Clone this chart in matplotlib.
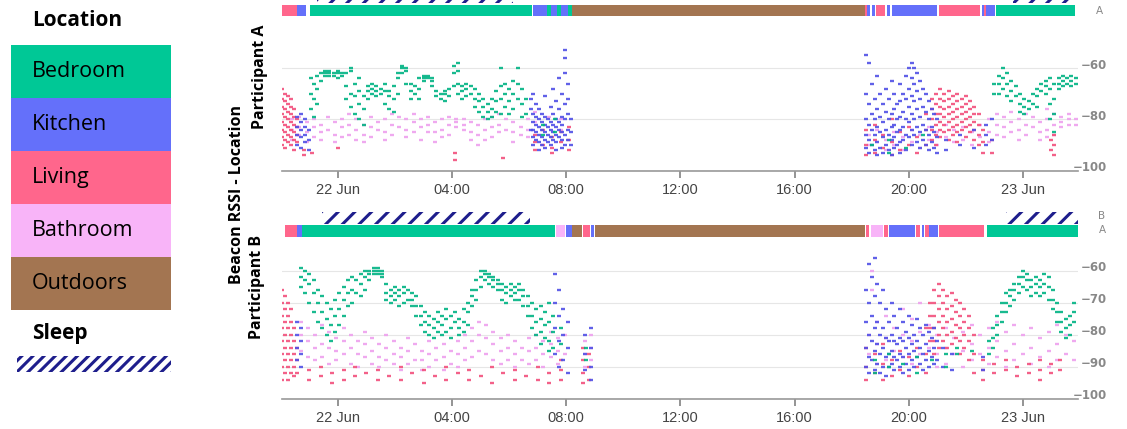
import matplotlib
matplotlib.use("Agg")
import matplotlib.pyplot as plt
import matplotlib.dates as mdates
from matplotlib.patches import Rectangle
from matplotlib.ticker import FuncFormatter
from matplotlib.transforms import ScaledTranslation
from datetime import datetime, timedelta

# hours are counted from 22 Jun 00:00
base = datetime(2019, 6, 22)

places = ["Bedroom", "Kitchen", "Living", "Bathroom", "Outdoors"]
place_colors = ["#00C896", "#6470FA", "#FF668C", "#F8B4F8", "#A37551"]
dot_colors = {"Bedroom": "#00b383", "Kitchen": "#5050e6", "Living": "#f2507c", "Bathroom": "#eea0ee"}

# location strips: (start h, end h, place)
loc_a = [(-1.97, -1.45, "Living"), (-1.43, -1.12, "Kitchen"), (-0.98, 6.79, "Bedroom"),
         (6.82, 7.31, "Kitchen"), (7.31, 7.48, "Bedroom"), (7.48, 7.66, "Kitchen"),
         (7.66, 7.80, "Bedroom"), (7.80, 8.06, "Kitchen"), (8.06, 8.19, "Bedroom"),
         (8.19, 18.46, "Outdoors"), (18.46, 18.55, "Living"), (18.55, 18.65, "Kitchen"),
         (18.72, 18.80, "Kitchen"), (18.85, 19.17, "Living"), (19.23, 19.33, "Kitchen"),
         (19.40, 21.00, "Kitchen"), (21.07, 22.50, "Living"), (22.55, 22.62, "Kitchen"),
         (22.62, 22.70, "Living"), (22.70, 23.02, "Kitchen"), (23.06, 25.83, "Bedroom")]
loc_b = [(-1.86, -1.45, "Living"), (-1.45, -1.27, "Kitchen"), (-1.27, 7.60, "Bedroom"),
         (7.64, 7.95, "Bathroom"), (7.99, 8.19, "Kitchen"), (8.19, 8.54, "Outdoors"),
         (8.60, 8.83, "Living"), (8.85, 8.97, "Kitchen"), (9.00, 18.46, "Outdoors"),
         (18.50, 18.62, "Living"), (18.66, 19.11, "Bathroom"), (19.13, 19.28, "Living"),
         (19.32, 20.22, "Kitchen"), (20.25, 20.39, "Living"), (20.45, 20.53, "Kitchen"),
         (20.57, 20.72, "Living"), (20.72, 21.03, "Kitchen"), (21.07, 22.63, "Living"),
         (22.73, 25.93, "Bedroom")]
sleep_a = [(-0.75, 6.14), (23.66, 25.82)]
sleep_b = [(-0.57, 6.74), (23.40, 25.93)]

# beacon RSSI readings: (hour, [dBm values])
bed_a = [(-0.95, [-64, -70, -76]), (-0.85, [-66, -72, -79]), (-0.75, [-63, -68, -74]),
         (-0.6, [-62, -65]), (-0.45, [-61, -62, -63]), (-0.3, [-61, -62, -63]),
         (-0.15, [-62, -63]), (0.0, [-61, -62, -64]), (0.15, [-62, -63]),
         (0.3, [-62, -67, -72]), (0.45, [-60, -61, -70, -75]), (0.6, [-66, -71, -78]),
         (0.75, [-64, -69, -74, -80]), (0.9, [-71, -76, -82]), (1.05, [-67, -69, -72]),
         (1.2, [-66, -68, -70]), (1.35, [-67, -69, -71]), (1.5, [-68, -70]),
         (1.65, [-66, -69, -74]), (1.8, [-69, -71, -76]), (1.95, [-67, -72, -77]),
         (2.1, [-64, -62, -70]), (2.25, [-59, -60, -62]), (2.4, [-60, -61, -66]),
         (2.55, [-66, -69, -72]), (2.7, [-67, -70]), (2.85, [-64, -68, -72]),
         (3.0, [-63, -64, -65]), (3.15, [-63, -64]), (3.3, [-64, -65, -67]),
         (3.45, [-69, -71]), (3.6, [-70, -72]), (3.75, [-69, -70, -73]),
         (3.9, [-68, -71]), (4.05, [-59, -62, -67]), (4.2, [-58, -61, -66, -70]),
         (4.35, [-67, -69, -72]), (4.5, [-66, -68, -71]), (4.65, [-67, -70]),
         (4.8, [-68, -72, -75]), (4.95, [-70, -73, -77]), (5.1, [-72, -75, -79]),
         (5.25, [-74, -77, -80]), (5.4, [-72, -76, -79]), (5.55, [-69, -73, -77]),
         (5.7, [-60, -67, -72, -78]), (5.85, [-66, -70, -75]), (6.0, [-68, -73, -78]),
         (6.15, [-65, -70, -76]), (6.3, [-60, -66, -72]), (6.45, [-68, -74, -79]),
         (6.6, [-72, -78]), (7.2, [-82, -86]), (7.6, [-80, -85]),
         (18.7, [-90]), (19.3, [-88, -93]), (19.9, [-91]), (20.5, [-86]),
         (23.0, [-66, -70]), (23.15, [-63, -66, -70]), (23.3, [-60, -64, -68]),
         (23.45, [-62, -66, -71]), (23.6, [-65, -69, -73]), (23.75, [-67, -71]),
         (23.9, [-70, -74, -77]), (24.05, [-72, -75, -78]), (24.2, [-73, -76]),
         (24.35, [-70, -74]), (24.5, [-68, -71, -75]), (24.65, [-66, -69]),
         (24.8, [-65, -67, -70]), (24.95, [-64, -68, -74, -80]), (25.1, [-66, -72, -78, -85]),
         (25.25, [-64, -66, -68]), (25.4, [-63, -65, -67]), (25.55, [-64, -66]),
         (25.7, [-63, -65, -67]), (25.85, [-64, -66])]

kit_a = [(-1.45, [-79, -83, -86, -90]), (-1.3, [-78, -81, -84, -87, -91]),
         (-1.15, [-80, -83, -86, -89]), (-1.0, [-84, -88, -92]),
         (6.75, [-72, -76, -84]), (6.85, [-70, -78, -81, -84, -87, -90]),
         (6.95, [-74, -79, -82, -85, -88]), (7.05, [-76, -80, -83, -86, -89, -92]),
         (7.15, [-78, -81, -84, -87, -90]), (7.25, [-71, -79, -82, -85, -88, -91]),
         (7.35, [-80, -83, -86, -89]), (7.45, [-75, -81, -84, -87, -90]),
         (7.55, [-68, -78, -82, -85, -88]), (7.65, [-73, -80, -83, -86, -89, -92]),
         (7.75, [-64, -76, -81, -84, -87]), (7.85, [-70, -79, -82, -85, -88, -91]),
         (7.95, [-53, -56, -62, -74, -80, -86, -90]), (8.05, [-66, -72, -78, -84, -88]),
         (8.15, [-80, -85, -90]),
         (18.5, [-55, -70, -80, -86, -91]), (18.6, [-58, -74, -82, -88, -93]),
         (18.7, [-66, -78, -84, -90]), (18.8, [-72, -80, -86, -92]),
         (18.9, [-63, -76, -83, -89, -94]), (19.0, [-70, -79, -85, -91]),
         (19.1, [-74, -81, -87, -93]), (19.2, [-68, -77, -84, -90]),
         (19.3, [-72, -80, -86, -92]), (19.4, [-65, -78, -83, -88, -94]),
         (19.5, [-70, -76, -82, -87, -91]), (19.6, [-74, -80, -85, -90]),
         (19.7, [-66, -73, -79, -84, -89, -93]), (19.8, [-70, -77, -83, -88]),
         (19.9, [-63, -72, -80, -86, -92]), (20.0, [-60, -68, -75, -81, -87]),
         (20.1, [-58, -64, -71, -78, -84, -90]), (20.2, [-60, -66, -73, -80, -86]),
         (20.3, [-62, -69, -76, -83, -89]), (20.4, [-65, -72, -79, -85, -91]),
         (20.5, [-68, -75, -82, -88]), (20.6, [-70, -77, -84, -90]),
         (20.7, [-73, -80, -86, -92]), (20.8, [-76, -83, -89]),
         (20.9, [-78, -85, -91]), (21.0, [-80, -87, -93]),
         (21.3, [-88, -92]), (21.8, [-86, -90]), (22.3, [-84, -91]),
         (22.7, [-82, -86, -90]), (22.9, [-80, -88])]

liv_a = [(-1.95, [-68, -72, -75, -78, -81, -84, -87, -90]),
         (-1.85, [-70, -73, -76, -79, -82, -85, -88, -91]),
         (-1.75, [-71, -74, -77, -80, -83, -86, -89]),
         (-1.65, [-72, -75, -78, -81, -84, -87, -90]),
         (-1.55, [-76, -79, -82, -85, -88, -92]), (-1.45, [-80, -83, -86, -89]),
         (-1.2, [-92, -94]), (-0.9, [-93]), (0.0, [-91]), (4.1, [-93, -96]),
         (5.8, [-95]), (6.9, [-86, -89, -92]), (7.2, [-84, -90]),
         (7.5, [-87, -91, -93]), (7.8, [-85, -89]), (8.1, [-83, -88, -92]),
         (18.5, [-84, -90, -94]), (18.8, [-82, -88, -93]), (19.1, [-86, -91]),
         (19.4, [-80, -89, -94]), (19.7, [-85, -92]), (20.0, [-83, -90]),
         (20.3, [-87, -93]), (20.6, [-78, -84, -90]), (20.8, [-72, -76, -80, -84, -88]),
         (20.95, [-70, -74, -78, -82, -86, -90]),
         (21.1, [-68, -72, -75, -78, -81, -84, -87]),
         (21.25, [-70, -73, -76, -79, -82, -85]),
         (21.4, [-69, -72, -75, -78, -81, -84, -88]),
         (21.55, [-71, -74, -77, -80, -83, -86]),
         (21.7, [-70, -73, -76, -79, -82, -85, -89]),
         (21.85, [-72, -75, -78, -81, -84]), (22.0, [-71, -74, -77, -80, -83, -87]),
         (22.15, [-73, -76, -79, -82, -85]), (22.3, [-75, -78, -81, -84, -88]),
         (22.45, [-78, -82, -86, -90]), (22.6, [-84, -89, -93]), (22.9, [-88, -93]),
         (25.0, [-88, -92]), (25.1, [-86, -90, -94])]

bath_a = [(-1.6, [-80, -84, -88]), (-1.35, [-79, -83, -86]), (-1.1, [-81, -85, -89]),
          (-0.85, [-80, -83, -87]), (-0.6, [-82, -85, -88]), (-0.35, [-79, -84]),
          (-0.1, [-81, -86, -89]), (0.15, [-80, -83, -87]), (0.4, [-78, -82, -86]),
          (0.65, [-80, -84, -88]), (0.9, [-82, -86, -89]), (1.15, [-79, -83, -87]),
          (1.4, [-81, -84]), (1.65, [-80, -85, -88]), (1.9, [-78, -82, -86]),
          (2.15, [-79, -83]), (2.4, [-80, -84, -87]), (2.65, [-78, -81, -85]),
          (2.9, [-80, -83, -88]), (3.15, [-79, -82, -85]), (3.4, [-81, -85, -89]),
          (3.65, [-80, -84, -87]), (3.9, [-79, -82, -86]), (4.15, [-80, -81, -83]),
          (4.4, [-80, -82, -84]), (4.65, [-81, -85, -88]), (4.9, [-82, -86, -90]),
          (5.15, [-80, -84, -88]), (5.4, [-79, -83, -87]), (5.65, [-78, -82, -85]),
          (5.9, [-80, -84]), (6.15, [-81, -85, -89]), (6.4, [-83, -86]),
          (6.65, [-80, -84, -87]), (6.9, [-77, -81]), (7.4, [-79]), (7.8, [-80, -84]),
          (18.6, [-86, -90]), (18.9, [-84, -89]), (19.2, [-88, -92]), (19.5, [-85, -90]),
          (19.8, [-87, -92]), (20.1, [-84, -89]), (20.4, [-86, -91]), (20.7, [-83, -88]),
          (21.0, [-85, -90]), (21.3, [-82, -87]), (21.6, [-84, -89]), (21.9, [-83, -88]),
          (22.2, [-85, -90]), (22.5, [-82, -87]), (22.8, [-80, -85, -89]),
          (23.1, [-78, -82, -86]), (23.35, [-79, -83, -87]), (23.6, [-77, -81, -85]),
          (23.85, [-80, -84, -88]), (24.1, [-78, -82, -86]), (24.35, [-79, -83]),
          (24.6, [-81, -85, -88]), (24.85, [-76, -80, -84, -87]), (25.1, [-78, -82, -86]),
          (25.35, [-79, -81, -83]), (25.6, [-78, -80, -82]), (25.85, [-80, -82])]

bed_b = [(-1.3, [-59, -62, -65]), (-1.15, [-60, -63, -67]), (-1.0, [-61, -64, -70]),
         (-0.85, [-63, -67, -73]), (-0.7, [-66, -70, -76]), (-0.55, [-68, -73, -78]),
         (-0.4, [-70, -75, -80]), (-0.25, [-72, -77, -82]), (-0.1, [-69, -74, -79]),
         (0.05, [-67, -72, -77]), (0.2, [-65, -69, -74]), (0.35, [-63, -67, -71]),
         (0.5, [-62, -66, -70]), (0.65, [-63, -67]), (0.8, [-61, -64, -68]),
         (0.95, [-60, -62, -66]), (1.1, [-60, -61, -63]), (1.25, [-59, -60, -61]),
         (1.4, [-59, -60, -61]), (1.55, [-60, -61, -62]), (1.7, [-64, -67, -69]),
         (1.85, [-66, -68, -70]), (2.0, [-65, -67, -69]), (2.15, [-66, -68, -71]),
         (2.3, [-65, -67, -70]), (2.45, [-66, -69]), (2.6, [-67, -69, -71]),
         (2.75, [-68, -71, -74]), (2.9, [-71, -74, -77]), (3.05, [-73, -76, -79]),
         (3.2, [-74, -77, -80]), (3.35, [-75, -78, -81]), (3.5, [-73, -76, -79]),
         (3.65, [-74, -77, -80]), (3.8, [-72, -75, -79]), (3.95, [-74, -78, -81]),
         (4.1, [-73, -76]), (4.25, [-75, -78, -80]), (4.4, [-72, -76, -79]),
         (4.55, [-70, -73, -77]), (4.7, [-66, -68, -71]), (4.85, [-63, -66, -69]),
         (5.0, [-60, -62, -65]), (5.15, [-60, -61, -63]), (5.3, [-61, -62, -64]),
         (5.45, [-62, -63, -65]), (5.6, [-63, -64, -66]), (5.75, [-64, -66, -69]),
         (5.9, [-65, -67, -70]), (6.05, [-64, -66, -68]), (6.2, [-65, -67, -69]),
         (6.35, [-64, -66, -69]), (6.5, [-66, -68, -71]), (6.65, [-68, -71, -74]),
         (6.8, [-70, -74, -78]), (6.95, [-72, -76, -80]), (7.1, [-71, -75, -79, -83]),
         (7.25, [-73, -77, -81]), (7.4, [-70, -76, -82, -85]), (7.55, [-74, -79, -84]),
         (7.8, [-78, -83]), (8.7, [-84, -88]),
         (18.8, [-88, -92]), (19.3, [-86, -90]), (19.8, [-89]), (20.3, [-87, -92]),
         (20.8, [-88]), (21.3, [-86, -90]), (21.7, [-84, -86]), (22.2, [-85]),
         (22.8, [-82, -86]), (22.95, [-78, -81, -84]), (23.1, [-74, -77, -80]),
         (23.25, [-70, -73, -76]), (23.4, [-67, -70, -73]), (23.55, [-66, -68, -71]),
         (23.7, [-64, -66, -69]), (23.85, [-62, -64, -67]), (24.0, [-60, -62, -65]),
         (24.15, [-61, -63, -66]), (24.3, [-63, -65, -68]), (24.45, [-62, -64, -67]),
         (24.6, [-63, -65, -68]), (24.75, [-61, -64, -67]), (24.9, [-62, -65, -69]),
         (25.05, [-66, -69, -72]), (25.2, [-70, -73, -76]), (25.35, [-73, -76, -79]),
         (25.5, [-75, -78, -81]), (25.65, [-74, -77, -80]), (25.8, [-70, -73, -76])]

kit_b = [(-1.45, [-76, -80, -84, -88]), (-1.3, [-78, -82, -86, -90]),
         (7.6, [-61, -70, -78, -86]), (7.75, [-66, -74, -82, -90]),
         (7.9, [-72, -80, -88]), (8.05, [-76, -84, -92]),
         (8.65, [-80, -86, -91]), (8.85, [-78, -84, -90, -94]),
         (18.5, [-66, -76, -84, -90]), (18.6, [-58, -70, -80, -87, -92]),
         (18.7, [-62, -74, -82, -88]), (18.8, [-56, -68, -78, -85, -91]),
         (18.9, [-64, -76, -83, -89]), (19.0, [-70, -80, -86, -92]),
         (19.1, [-66, -78, -84, -90]), (19.2, [-72, -81, -87, -93]),
         (19.3, [-76, -82, -86, -90]), (19.4, [-70, -80, -85, -89]),
         (19.5, [-74, -82, -87, -91]), (19.6, [-78, -83, -88]),
         (19.7, [-72, -81, -86, -90]), (19.8, [-76, -82, -87, -92]),
         (19.9, [-79, -84, -89]), (20.0, [-74, -81, -86, -91]),
         (20.1, [-77, -83, -88]), (20.2, [-80, -85, -90]),
         (20.3, [-75, -82, -87]), (20.4, [-78, -84, -89]),
         (20.5, [-80, -86, -91]), (20.6, [-77, -83, -88]),
         (20.7, [-79, -85, -90]), (20.8, [-81, -87]),
         (20.9, [-78, -84, -89]), (21.0, [-82, -88]),
         (21.2, [-84, -90]), (21.5, [-86, -91]), (22.6, [-87, -91])]

liv_b = [(-1.95, [-66, -70, -74, -78, -82, -86, -90, -94]),
         (-1.85, [-68, -72, -76, -80, -84, -88, -92]),
         (-1.75, [-70, -74, -78, -82, -86, -90, -94]),
         (-1.65, [-72, -76, -80, -84, -88, -92]),
         (-1.55, [-78, -82, -86, -90, -93]), (-1.45, [-84, -88, -92]),
         (-1.0, [-91, -94]), (-0.6, [-90, -93]), (-0.2, [-92, -95]), (0.2, [-91, -94]),
         (0.6, [-90, -93]), (1.0, [-92]), (1.4, [-91, -94]), (1.8, [-93]),
         (2.2, [-90, -94]), (2.6, [-92]), (3.0, [-91, -95]), (3.4, [-93]),
         (3.8, [-90, -94]), (4.2, [-92]), (4.6, [-91, -94]), (5.0, [-93]),
         (5.4, [-90, -95]), (5.8, [-92]), (6.2, [-91, -94]), (6.6, [-93]),
         (7.0, [-90, -94]), (7.4, [-92, -95]), (7.8, [-88, -91, -94]),
         (8.6, [-84, -88, -92, -95]), (8.8, [-86, -90, -94]),
         (18.5, [-84, -90, -94]), (18.8, [-86, -92]), (19.1, [-83, -89, -94]),
         (19.4, [-88, -93]), (19.7, [-85, -91]), (20.0, [-87, -93]), (20.3, [-84, -90]),
         (20.6, [-78, -86, -92]), (20.75, [-70, -74, -78, -82]),
         (20.9, [-66, -70, -74, -78, -82, -86]), (21.05, [-64, -68, -72, -76, -80, -84]),
         (21.2, [-66, -70, -74, -78, -82]), (21.35, [-68, -72, -76, -80, -84]),
         (21.5, [-67, -71, -75, -79, -83]), (21.65, [-69, -73, -77, -81]),
         (21.8, [-70, -74, -78, -82, -86]), (21.95, [-72, -76, -80, -84]),
         (22.1, [-74, -78, -82, -88]), (22.3, [-80, -86, -92]), (22.6, [-88, -91, -94]),
         (23.0, [-89, -92]), (23.4, [-88, -91]), (23.8, [-90, -93]), (24.2, [-89, -92]),
         (24.6, [-88, -91, -94]), (25.0, [-89, -92]), (25.3, [-88, -91])]

bath_b = [(-1.3, [-76, -80, -85]), (-1.05, [-78, -82, -87]), (-0.8, [-80, -84, -88]),
          (-0.55, [-77, -83, -87]), (-0.3, [-79, -84, -89]), (-0.05, [-81, -85, -88]),
          (0.2, [-78, -82, -86]), (0.45, [-80, -84, -89]), (0.7, [-82, -86, -90]),
          (0.95, [-79, -83, -87]), (1.2, [-81, -85, -89]), (1.45, [-83, -87, -90]),
          (1.7, [-80, -84, -88]), (1.95, [-82, -86, -89]), (2.2, [-84, -87, -91]),
          (2.45, [-81, -85, -89]), (2.7, [-83, -88]), (2.95, [-85, -88, -91]),
          (3.2, [-82, -86, -90]), (3.45, [-84, -88]), (3.7, [-83, -87, -91]),
          (3.95, [-85, -89]), (4.2, [-82, -86, -90]), (4.45, [-80, -84, -88]),
          (4.7, [-78, -82, -87]), (4.95, [-76, -80, -85]), (5.2, [-77, -81, -86]),
          (5.45, [-79, -83, -88]), (5.7, [-81, -85, -89]), (5.95, [-80, -84, -88]),
          (6.2, [-82, -86, -90]), (6.45, [-84, -88]), (6.7, [-81, -85, -89]),
          (6.95, [-80, -84, -88]), (7.2, [-82, -86, -90]), (7.45, [-79, -83, -87]),
          (7.7, [-81, -85, -89]), (7.95, [-80, -86]), (8.65, [-82, -86, -90]),
          (8.85, [-80, -84, -88]),
          (18.6, [-80, -86]), (18.7, [-60, -66]), (18.9, [-76, -83, -89]),
          (19.2, [-74, -81, -88]), (19.5, [-78, -85]), (19.8, [-72, -80, -87]),
          (20.1, [-75, -82, -89]), (20.4, [-70, -79, -86]), (20.7, [-77, -84]),
          (21.0, [-80, -86, -90]), (21.3, [-78, -84, -89]), (21.6, [-81, -86]),
          (21.9, [-79, -85, -90]), (22.2, [-77, -83, -88]), (22.5, [-80, -86]),
          (22.8, [-78, -84, -89]), (23.1, [-76, -82, -87]), (23.4, [-79, -85, -90]),
          (23.7, [-77, -83, -88]), (24.0, [-80, -86]), (24.3, [-78, -84, -89]),
          (24.6, [-81, -87]), (24.9, [-79, -85, -90]), (25.2, [-77, -83, -88]),
          (25.5, [-80, -86]), (25.8, [-82, -88])]

x_start, x_end = -1.97, 25.93

W, H = 1127, 429
fig = plt.figure(figsize=(W / 100, H / 100), dpi=100)
plt.rcParams["hatch.linewidth"] = 2.2
plt.rcParams["hatch.color"] = "#1e1e8c"
tick_font = ["Liberation Sans Narrow", "Liberation Sans", "DejaVu Sans"]


def px_axes(l, t, r, b):
    return fig.add_axes([l / W, 1 - b / H, (r - l) / W, (b - t) / H])


def when(h):
    return base + timedelta(hours=h)


def flatten(rows):
    t, v = [], []
    for h, vals in rows:
        for val in vals:
            t.append(when(h))
            v.append(val)
    return t, v


def time_fmt(x, pos):
    d = mdates.num2date(x)
    return d.strftime("%d %b") if d.hour == 0 else d.strftime("%H:%M")


color_of = dict(zip(places, place_colors))


def draw_strip(ax, locs, sleeps, bar_y, sleep_y):
    for place in places:
        segs = [(mdates.date2num(when(s)), (e - s) / 24) for s, e, p in locs if p == place]
        if segs:
            ax.broken_barh(segs, bar_y, facecolors=color_of[place], edgecolor="none")
    segs = [(mdates.date2num(when(s)), (e - s) / 24) for s, e in sleeps]
    ax.broken_barh(segs, sleep_y, facecolors="white", edgecolor="#1e1e8c",
                   linewidth=0, hatch="//")
    ax.set_xlim(when(x_start), when(x_end))
    ax.axis("off")


def draw_panel(ax, series, ylim, yticks):
    # readings drawn as short dashes, like the original logger plot
    for name, rows in series:
        t, v = flatten(rows)
        ax.plot(t, v, "_", ms=3.0, mew=1.7, color=dot_colors[name], alpha=0.9)
    ax.set_xlim(when(x_start), when(x_end))
    ax.set_ylim(*ylim)
    ax.set_yticks(yticks)
    ax.yaxis.tick_right()
    ax.grid(axis="y", color="#e6e6e6", lw=0.8)
    ax.set_axisbelow(True)
    for s in ["top", "left", "right"]:
        ax.spines[s].set_visible(False)
    ax.spines["bottom"].set_color("#999999")
    ax.spines["bottom"].set_linewidth(1.2)
    ax.xaxis.set_major_locator(mdates.HourLocator(byhour=range(0, 24, 4)))
    ax.xaxis.set_major_formatter(FuncFormatter(time_fmt))
    ax.tick_params(axis="x", length=5, width=1.1, color="#777777", labelsize=10.5,
                   labelcolor="#444444", pad=4)
    for lab in ax.get_xticklabels():
        lab.set_family(tick_font)
    ax.tick_params(axis="y", length=0, labelsize=8.5, labelcolor="#888888", pad=21)
    shift = ScaledTranslation(0, 0.045, fig.dpi_scale_trans)
    for lab in ax.get_yticklabels():
        lab.set_horizontalalignment("right")
        lab.set_fontweight("bold")
        lab.set_transform(lab.get_transform() + shift)


# participant A
ax_sa = px_axes(281.7, 0, 1078, 18)
ax_sa.set_ylim(18, 0)
draw_strip(ax_sa, loc_a, sleep_a, (5, 11), (-9, 12))
ax_a = px_axes(281.7, 22, 1078, 170.7)
draw_panel(ax_a, [("Bathroom", bath_a), ("Living", liv_a), ("Kitchen", kit_a), ("Bedroom", bed_a)],
           (-100, -42), [-100, -80, -60])

# participant B
ax_sb = px_axes(281.7, 205, 1078, 240)
ax_sb.set_ylim(240, 205)
draw_strip(ax_sb, loc_b, sleep_b, (225, 12), (212, 12))
ax_b = px_axes(281.7, 240, 1078, 398.7)
draw_panel(ax_b, [("Bathroom", bath_b), ("Living", liv_b), ("Kitchen", kit_b), ("Bedroom", bed_b)],
           (-100, -50.4), [-100, -90, -80, -70, -60])

# row labels of the strips
fig.text(1099 / W, 1 - 11 / H, "A", fontsize=7.5, color="#888888", ha="center", va="center")
fig.text(1102 / W, 1 - 216 / H, "B", fontsize=7.5, color="#888888", ha="center", va="center")
fig.text(1102 / W, 1 - 230 / H, "A", fontsize=7.5, color="#888888", ha="center", va="center")

# side titles
side = dict(rotation=90, ha="center", va="center", fontweight="bold", fontsize=11.5,
            family="Open Sans", color="black")
fig.text(237 / W, 1 - 194 / H, "Beacon RSSI - Location", **side)
fig.text(260 / W, 1 - 77 / H, "Participant A", **side)
fig.text(257 / W, 1 - 287 / H, "Participant B", **side)

# legend
lax = px_axes(0, 0, 200, H)
lax.set_xlim(0, 200)
lax.set_ylim(H, 0)
lax.axis("off")
lax.text(32, 20, "Location", fontsize=15, fontweight="bold", family="Open Sans", va="center")
box_top, box_h = 45, 52.9
for i, (place, col) in enumerate(zip(places, place_colors)):
    y0 = box_top + i * box_h
    lax.add_patch(Rectangle((11, y0), 160, box_h, facecolor=col, edgecolor="none"))
    lax.text(32, y0 + box_h / 2, place, fontsize=15.5, family="Open Sans", va="center")
lax.text(32, 334, "Sleep", fontsize=15, fontweight="bold", family="Open Sans", va="center")
lax.add_patch(Rectangle((17, 356), 154, 16, facecolor="white", edgecolor="#1e1e8c",
                        linewidth=0, hatch="///"))

fig.savefig("out.png", dpi=100)
